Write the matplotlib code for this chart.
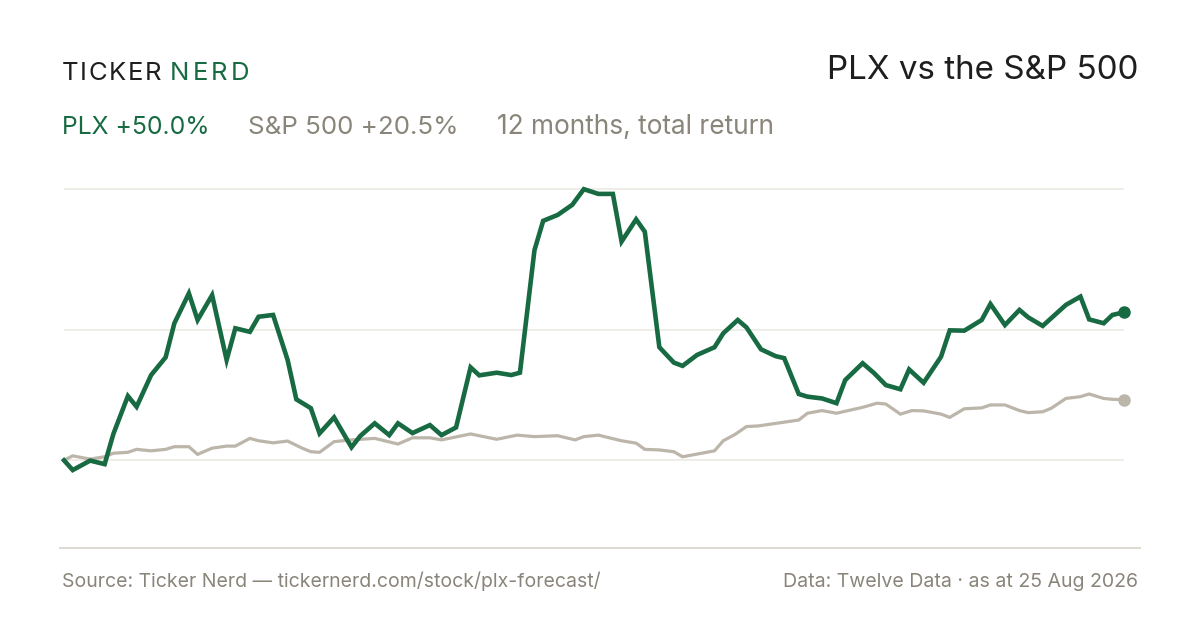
import matplotlib
matplotlib.use("Agg")
import matplotlib.pyplot as plt
from matplotlib.lines import Line2D

# day offsets inside the 12 month window, and total return in %
plx_days = [0, 3, 9, 14, 17, 22, 25, 30, 35, 38, 43, 46, 51, 56, 59, 64, 67, 72, 77, 80,
            85, 88, 93, 99, 102, 107, 112, 115, 120, 126, 130, 135, 140, 143, 149, 154, 157,
            162, 165, 170, 175, 179, 184, 189, 192, 197, 200, 205, 210, 213, 218, 224, 227,
            232, 235, 240, 245, 248, 253, 256, 261, 266, 269, 275, 279, 283, 288, 291, 296,
            302, 305, 310, 316, 319, 324, 329, 332, 337, 345, 350, 353, 358, 361, 365]
plx_ret = [0.0, -3.3, -0.1, -1.3, 8.9, 21.7, 18.1, 28.8, 34.8, 46.3, 56.4, 47.4, 55.8, 33.9,
           44.6, 43.4, 48.5, 49.1, 33.9, 20.6, 17.6, 9.1, 14.5, 4.4, 8.2, 12.5, 8.5, 12.5, 9.2,
           11.9, 8.5, 11.1, 31.4, 28.7, 29.6, 28.8, 29.6, 71.0, 80.9, 82.9, 86.3, 91.6, 90.0,
           90.0, 73.9, 81.4, 77.2, 38.2, 33.0, 31.9, 35.6, 38.2, 42.9, 47.4, 44.9, 37.5, 35.2,
           34.5, 22.4, 21.5, 20.9, 19.3, 27.1, 32.8, 29.4, 25.4, 24.0, 30.7, 26.2, 35.0, 43.9,
           43.8, 47.4, 52.8, 45.7, 50.8, 48.3, 45.4, 52.5, 55.3, 47.6, 46.3, 49.1, 50.0]

spx_days = [0, 3, 9, 14, 17, 22, 25, 30, 35, 38, 43, 46, 51, 56, 59, 64, 67, 72, 77, 82,
            85, 88, 93, 99, 107, 115, 120, 126, 130, 140, 149, 156, 162, 170, 176, 179, 184,
            192, 197, 200, 205, 210, 213, 218, 224, 227, 231, 235, 239, 246, 253, 256, 261,
            266, 275, 280, 283, 288, 292, 296, 302, 305, 310, 316, 319, 324, 329, 332, 337,
            340, 345, 350, 353, 358, 361, 365]
spx_ret = [0.0, 1.5, 0.4, 1.2, 2.4, 2.7, 3.7, 3.2, 3.7, 4.6, 4.6, 2.0, 4.1, 4.8, 4.8, 7.4,
           6.6, 5.9, 6.5, 4.1, 2.9, 2.7, 6.3, 6.9, 7.4, 5.5, 7.6, 7.6, 6.9, 8.9, 7.1, 8.5, 8.0,
           8.3, 6.9, 8.0, 8.5, 6.6, 5.8, 3.7, 3.5, 2.9, 1.2, 2.1, 3.2, 6.6, 8.7, 11.4, 11.6,
           12.6, 13.6, 15.9, 16.8, 15.9, 17.9, 19.3, 19.0, 15.6, 16.8, 16.7, 15.6, 14.5, 17.4,
           17.7, 18.7, 18.7, 16.8, 16.1, 16.4, 17.6, 20.9, 21.5, 22.4, 20.9, 20.6, 20.5]

grid_levels = [0.0, 44.0, 91.6]

GREEN = "#176a41"
GREY_LINE = "#bcb5aa"
GREY_TEXT = "#8a857a"
DARK = "#1e1e1e"

W, H = 1200, 630
fig = plt.figure(figsize=(12, 6.3), dpi=100)
fig.patch.set_facecolor("white")
plt.rcParams["font.family"] = ["Inter", "DejaVu Sans"]


def px(x, y):
    return x / W, 1 - y / H


renderer = fig.canvas.get_renderer()


def fit_text(x, y, s, width, size, ha="left", **kw):
    # draw text and scale its size so it covers the measured width
    t = fig.text(*px(x, y), s, fontsize=size, ha=ha, va="baseline", **kw)
    w = t.get_window_extent(renderer).width
    t.set_fontsize(size * width / w)
    return t


def spaced(x, y, s, width, size, color):
    # letter-spaced word, laid out char by char
    chars = []
    total = 0
    for ch in s:
        t = fig.text(0, 0, ch, fontsize=size, color=color, va="baseline")
        w = t.get_window_extent(renderer).width
        chars.append((t, w))
        total += w
    gap = (width - total) / (len(s) - 1)
    cx = x
    for t, w in chars:
        t.set_position(px(cx, y))
        cx += w + gap


# header
spaced(62, 80, "TICKER", 99, 18.5, DARK)
spaced(170, 80, "NERD", 79, 18.5, GREEN)
fit_text(1138, 79, "PLX vs the S&P 500", 312, 24, ha="right", color=DARK)
fit_text(62, 134, "PLX +50.0%", 148, 17, color=GREEN)
fit_text(248, 134, "S&P 500 +20.5%", 211, 17, color=GREY_TEXT)
fit_text(497, 134, "12 months, total return", 278, 17, color=GREY_TEXT)

# chart area: x 64..1124 px, y 180..500 px, 0% at y=460.3, 2.96 px per %
top, bot = 180, 500
ax = fig.add_axes([64 / W, 1 - bot / H, 1060 / W, (bot - top) / H])
ax.set_xlim(0, 365)
ax.set_ylim((460.3 - bot) / 2.96, (460.3 - top) / 2.96)
ax.axis("off")

for g in grid_levels:
    ax.axhline(g, color="#ebe8e2", lw=1.1, zorder=1)

ax.plot(spx_days, spx_ret, color=GREY_LINE, lw=2.3, solid_joinstyle="miter",
        clip_on=False, zorder=2)
ax.plot(plx_days, plx_ret, color=GREEN, lw=3.3, solid_joinstyle="miter",
        clip_on=False, zorder=3)
ax.plot(spx_days[-1], spx_ret[-1], "o", color=GREY_LINE, ms=8, clip_on=False, zorder=4)
ax.plot(plx_days[-1], plx_ret[-1], "o", color=GREEN, ms=8, clip_on=False, zorder=5)

# footer
fig.add_artist(Line2D([60 / W, 1140 / W], [1 - 548 / H] * 2, color="#dedbd3", lw=1.5))
fit_text(62, 587, "Source: Ticker Nerd \u2014 tickernerd.com/stock/plx-forecast/", 538, 12.5,
         color=GREY_TEXT)
fit_text(1138, 587, "Data: Twelve Data \u00b7 as at 25 Aug 2026", 355, 12.5, ha="right",
         color=GREY_TEXT)

fig.savefig("out.png", dpi=100, facecolor="white")
